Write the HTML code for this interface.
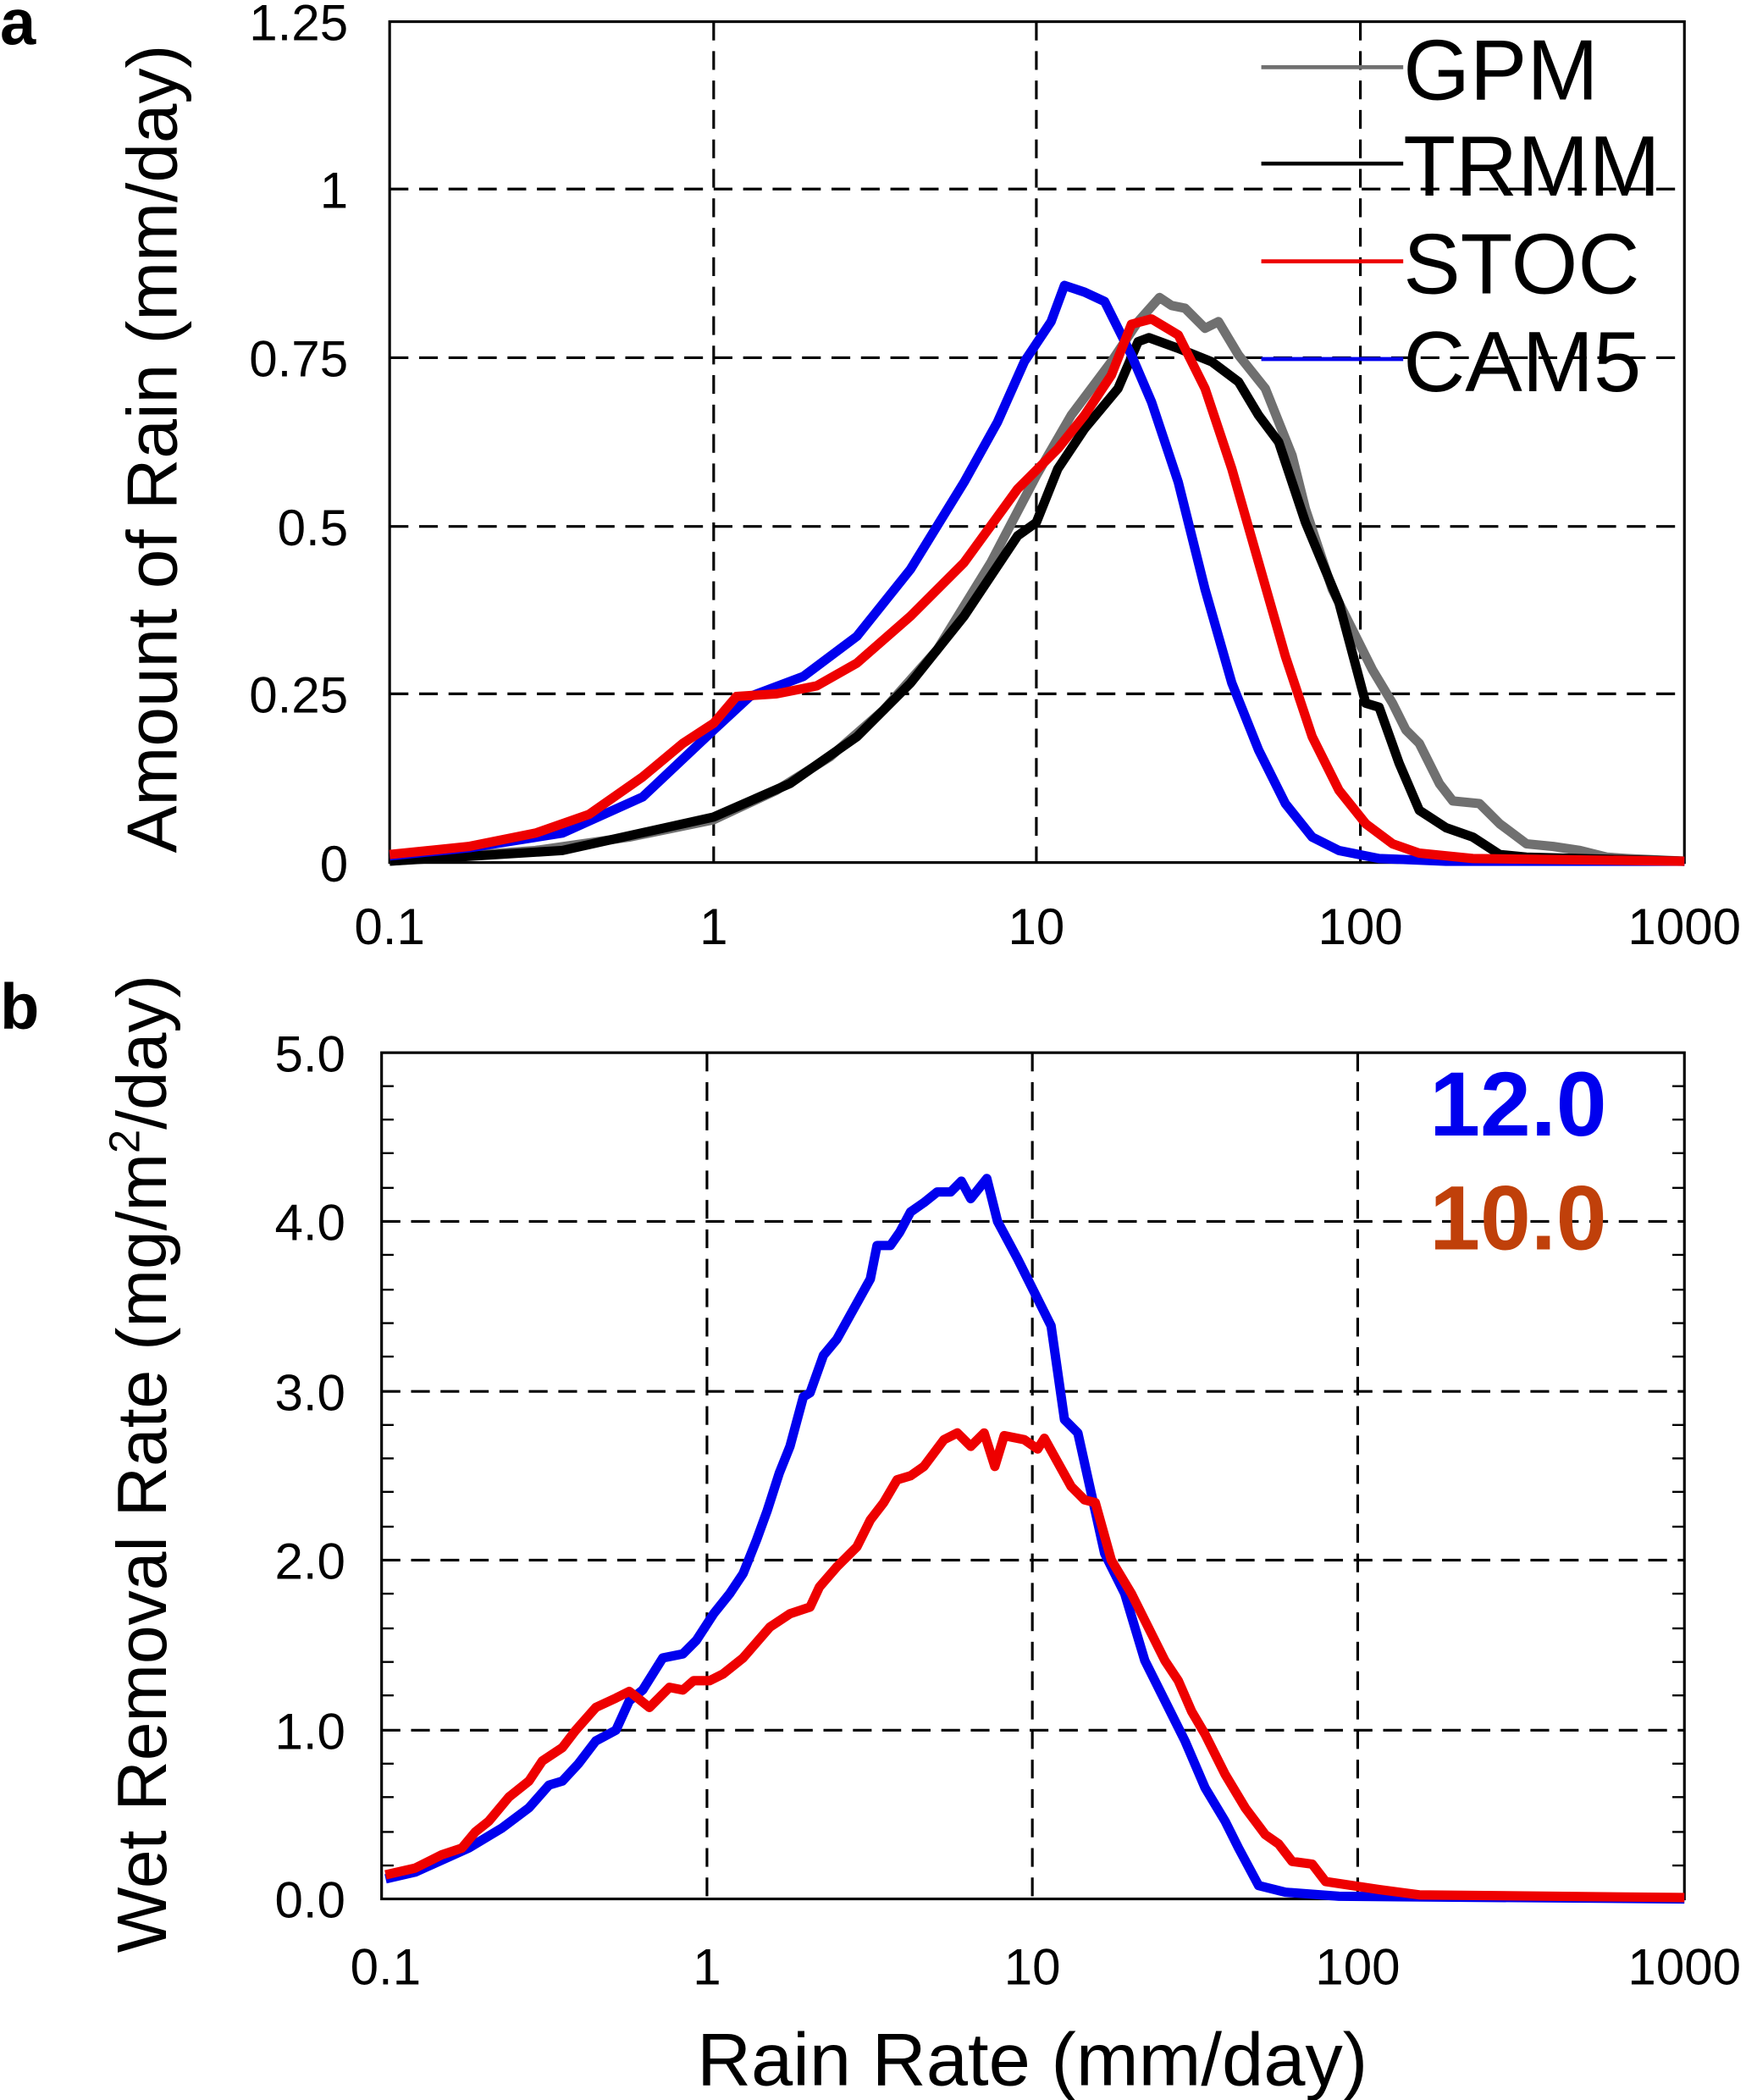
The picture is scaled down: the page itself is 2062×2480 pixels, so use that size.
<!DOCTYPE html>
<html><head><meta charset="utf-8"><style>html,body{margin:0;padding:0;background:#fff}svg{display:block}</style></head><body>
<svg width="2062" height="2480" viewBox="0 0 1304 1568" xmlns="http://www.w3.org/2000/svg" font-family="Liberation Sans, sans-serif">
<rect width="1304" height="1568" fill="#fff"/>
<!-- panel a -->
<g stroke="#000" stroke-width="2" stroke-dasharray="14,8" fill="none">
<line x1="533" y1="16" x2="533" y2="644"/><line x1="774" y1="16" x2="774" y2="644"/><line x1="1016" y1="16" x2="1016" y2="644"/>
<line x1="291" y1="141" x2="1258" y2="141"/><line x1="291" y1="267" x2="1258" y2="267"/><line x1="291" y1="393" x2="1258" y2="393"/><line x1="291" y1="518" x2="1258" y2="518"/>
</g>
<rect x="291" y="16" width="967" height="628" fill="none" stroke="#000" stroke-width="2"/>
<g fill="none" stroke-width="7" stroke-linejoin="round">
<polyline stroke="#707070" points="291,643 400,635 470,625 533,612 580,590 620,565 660,530 700,485 740,420 774,355 800,310 830,270 850,240 866,222 875,228 885,230 900,245 910,240 925,265 945,290 965,340 975,380 995,440 1010,470 1025,500 1040,525 1050,545 1060,555 1075,585 1085,598 1105,600 1120,615 1140,630 1160,632 1180,635 1200,640 1215,641 1258,643"/>
<polyline stroke="#000" points="291,643 420,635 533,610 590,585 640,550 680,510 720,460 760,400 774,390 790,350 810,320 835,290 850,255 858,252 880,260 905,270 925,285 940,310 955,330 975,390 1000,450 1016,510 1020,525 1030,528 1045,570 1060,605 1080,618 1100,625 1120,638 1140,640 1258,643"/>
<polyline stroke="#0000ee" points="291,639 350,633 420,622 480,595 533,545 560,520 600,505 640,475 680,425 720,360 745,315 765,270 785,240 795,213 810,218 825,225 845,265 860,300 880,360 900,440 920,510 940,560 960,600 980,625 1000,635 1030,641 1080,643 1258,643"/>
<polyline stroke="#ee0000" points="291,638 350,632 400,622 440,608 480,580 510,555 533,540 550,520 580,518 610,512 640,495 680,460 720,420 760,365 790,335 810,310 830,280 845,242 860,238 880,250 900,290 920,350 940,420 960,490 980,550 1000,590 1020,615 1040,630 1060,637 1100,641 1258,643"/>
</g>
<g stroke-width="3">
<line x1="942" y1="50" x2="1048" y2="50" stroke="#707070"/><line x1="942" y1="122" x2="1048" y2="122" stroke="#000"/>
<line x1="942" y1="195" x2="1048" y2="195" stroke="#ee0000"/><line x1="942" y1="268" x2="1048" y2="268" stroke="#0000ee"/>
</g>
<g font-size="64" fill="#000">
<text x="1048" y="74">GPM</text><text x="1048" y="146">TRMM</text><text x="1048" y="219">STOC</text><text x="1048" y="292">CAM5</text>
</g>
<g font-size="38" text-anchor="end">
<text x="260" y="30">1.25</text><text x="260" y="155">1</text><text x="260" y="281">0.75</text><text x="260" y="407">0.5</text><text x="260" y="532">0.25</text><text x="260" y="658">0</text>
</g>
<g font-size="38" text-anchor="middle">
<text x="291" y="705">0.1</text><text x="533" y="705">1</text><text x="774" y="705">10</text><text x="1016" y="705">100</text><text x="1258" y="705">1000</text>
</g>
<text transform="translate(132,335) rotate(-90)" font-size="53" text-anchor="middle">Amount of Rain (mm/day)</text>
<text x="0" y="33" font-size="48" font-weight="bold">a</text>
<!-- panel b -->
<g stroke="#000" stroke-width="2" stroke-dasharray="14,8" fill="none">
<line x1="528" y1="786" x2="528" y2="1418"/><line x1="771" y1="786" x2="771" y2="1418"/><line x1="1014" y1="786" x2="1014" y2="1418"/>
<line x1="285" y1="912" x2="1258" y2="912"/><line x1="285" y1="1039" x2="1258" y2="1039"/><line x1="285" y1="1165" x2="1258" y2="1165"/><line x1="285" y1="1292" x2="1258" y2="1292"/>
</g>
<g stroke="#000" stroke-width="1.5">
<path d="M285,811h9M285,836h9M285,861h9M285,887h9M285,937h9M285,963h9M285,988h9M285,1013h9M285,1064h9M285,1089h9M285,1114h9M285,1140h9M285,1190h9M285,1216h9M285,1241h9M285,1266h9M285,1317h9M285,1342h9M285,1368h9M285,1393h9"/>
<path d="M1258,811h-9M1258,836h-9M1258,861h-9M1258,887h-9M1258,937h-9M1258,963h-9M1258,988h-9M1258,1013h-9M1258,1064h-9M1258,1089h-9M1258,1114h-9M1258,1140h-9M1258,1190h-9M1258,1216h-9M1258,1241h-9M1258,1266h-9M1258,1317h-9M1258,1342h-9M1258,1368h-9M1258,1393h-9"/>
</g>
<rect x="285" y="786" width="973" height="632" fill="none" stroke="#000" stroke-width="2"/>
<g fill="none" stroke-width="7" stroke-linejoin="round">
<polyline stroke="#0000ee" points="288,1403 310,1398 350,1380 375,1365 395,1350 410,1333 420,1330 432,1317 445,1300 460,1292 470,1270 480,1262 495,1238 510,1235 520,1225 533,1205 545,1190 555,1175 565,1150 573,1128 582,1100 590,1080 600,1043 605,1040 615,1012 625,1000 635,982 650,955 655,930 665,930 672,920 680,905 690,898 700,890 710,890 718,882 725,895 737,880 745,912 760,940 774,968 785,990 795,1060 805,1070 815,1115 825,1160 840,1190 855,1240 870,1270 885,1300 900,1335 915,1360 925,1380 940,1408 960,1413 1000,1416 1258,1418"/>
<polyline stroke="#ee0000" points="288,1400 310,1395 330,1385 345,1380 355,1368 365,1360 380,1342 395,1330 405,1315 420,1305 430,1292 445,1275 460,1268 470,1263 485,1275 500,1260 510,1262 518,1255 530,1255 540,1250 555,1238 575,1215 590,1205 605,1200 612,1185 625,1170 640,1155 650,1135 660,1122 670,1105 680,1102 690,1095 705,1075 715,1070 725,1080 735,1070 743,1095 750,1072 765,1075 775,1082 780,1074 790,1092 800,1110 810,1120 818,1122 830,1165 845,1190 860,1220 870,1240 880,1255 890,1278 900,1295 915,1325 930,1350 945,1370 955,1377 965,1390 980,1392 990,1405 1010,1408 1030,1411 1060,1415 1258,1417"/>
</g>
<text x="1200" y="848" font-size="68" font-weight="bold" fill="#0000ee" text-anchor="end">12.0</text>
<text x="1200" y="933" font-size="68" font-weight="bold" fill="#c0400a" text-anchor="end">10.0</text>
<g font-size="38" text-anchor="end">
<text x="258" y="800">5.0</text><text x="258" y="926">4.0</text><text x="258" y="1053">3.0</text><text x="258" y="1179">2.0</text><text x="258" y="1306">1.0</text><text x="258" y="1432">0.0</text>
</g>
<g font-size="38" text-anchor="middle">
<text x="288" y="1482">0.1</text><text x="528" y="1482">1</text><text x="771" y="1482">10</text><text x="1014" y="1482">100</text><text x="1258" y="1482">1000</text>
</g>
<text transform="translate(124,1093) rotate(-90)" font-size="52" text-anchor="middle">Wet Removal Rate (mg/m<tspan font-size="32" dy="-20">2</tspan><tspan dy="20">/day)</tspan></text>
<text x="771" y="1557" font-size="56" text-anchor="middle">Rain Rate (mm/day)</text>
<text x="0" y="768" font-size="48" font-weight="bold">b</text>
</svg>
</body></html>
